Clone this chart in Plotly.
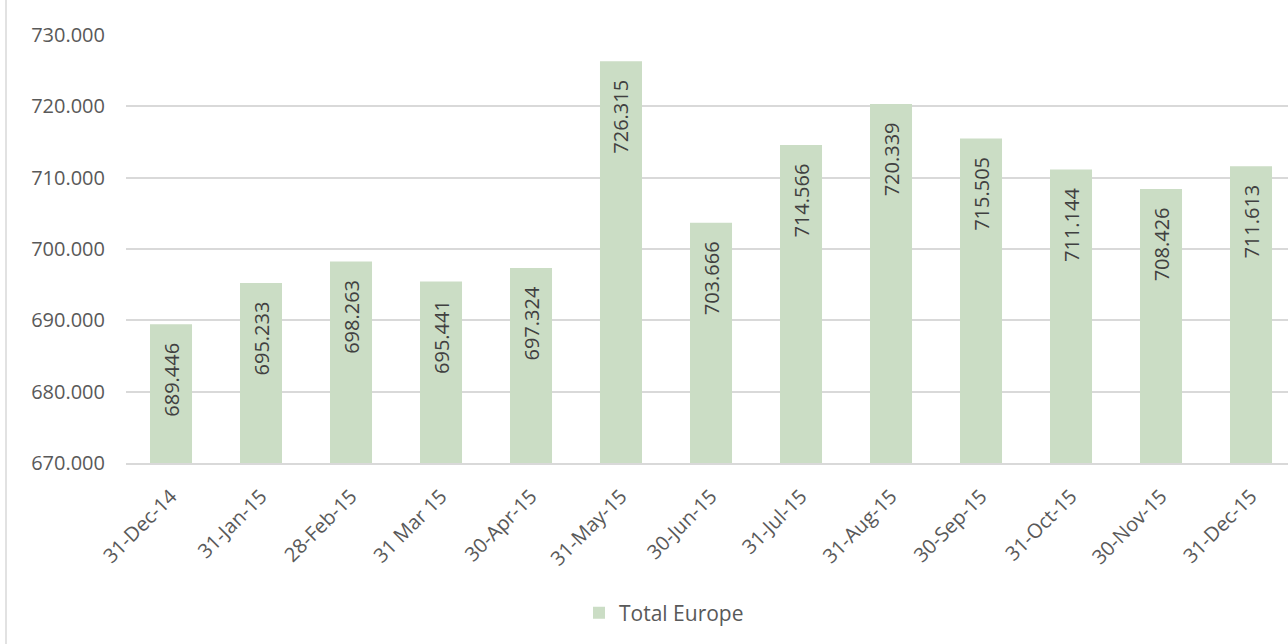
import plotly.graph_objects as go

categories = ["31-Dec-14", "31-Jan-15", "28-Feb-15", "31 Mar 15", "30-Apr-15", "31-May-15",
              "30-Jun-15", "31-Jul-15", "31-Aug-15", "30-Sep-15", "31-Oct-15", "30-Nov-15", "31-Dec-15"]
total_europe = [689446, 695233, 698263, 695441, 697324, 726315,
                703666, 714566, 720339, 715505, 711144, 708426, 711613]
series_name = "Total Europe"

W, H = 1288, 644
L, R, T, B = 126, 0, 35, 181
plot_w = W - L - R
plot_h = H - T - B

FONT = "Open Sans"
TXT = "#595959"
GRID = "#d9d9d9"
BAR = "#cbddc5"

fig = go.Figure()
fig.add_trace(go.Bar(
    x=list(range(len(categories))),
    y=total_europe,
    name=series_name,
    marker=dict(color=BAR, line=dict(width=0)),
    texttemplate="%{y:,d}\u00a0\u00a0\u00a0",
    textposition="inside",
    insidetextanchor="end",
    textangle=-90,
    textfont=dict(family=FONT, size=20, color="#404040"),
    showlegend=True,
))

fig.update_layout(
    width=W, height=H,
    margin=dict(l=L, r=R, t=T, b=B, autoexpand=False),
    paper_bgcolor="white", plot_bgcolor="white",
    separators=",.",
    bargap=0.533,
    font=dict(family=FONT, size=20, color=TXT),
    legend=dict(
        orientation="h",
        x=(664 - L) / plot_w, xanchor="center",
        y=(T + plot_h - 613) / plot_h, yanchor="middle",
        font=dict(family=FONT, size=21, color=TXT),
        itemwidth=30,
    ),
    xaxis=dict(
        tickmode="array",
        tickvals=list(range(len(categories))),
        ticktext=categories,
        range=[-0.5, len(categories) - 0.5 - (L + 13 * 90 - W) / 90],
        tickangle=-45,
        showgrid=False,
        showline=True, linecolor=GRID, linewidth=1.5,
        ticks="",
        ticklabelstandoff=12,
        tickfont=dict(family=FONT, size=20, color=TXT),
    ),
    yaxis=dict(
        range=[670000, 730000],
        dtick=10000,
        tickformat=",d",
        showgrid=True, gridcolor=GRID, gridwidth=1.5,
        zeroline=False,
        ticks="",
        ticklabelstandoff=20,
        tickfont=dict(family=FONT, size=20, color=TXT),
    ),
    shapes=[dict(
        type="line", xref="paper", yref="paper",
        x0=(6 - L) / plot_w, x1=(6 - L) / plot_w,
        y0=(T + plot_h - H) / plot_h, y1=(T + plot_h) / plot_h,
        line=dict(color=GRID, width=1.5),
    )],
)

fig.write_html(
    "out.html",
    config={"displayModeBar": False},
    post_script="document.body.style.margin='0';document.body.style.overflow='hidden';",
)
